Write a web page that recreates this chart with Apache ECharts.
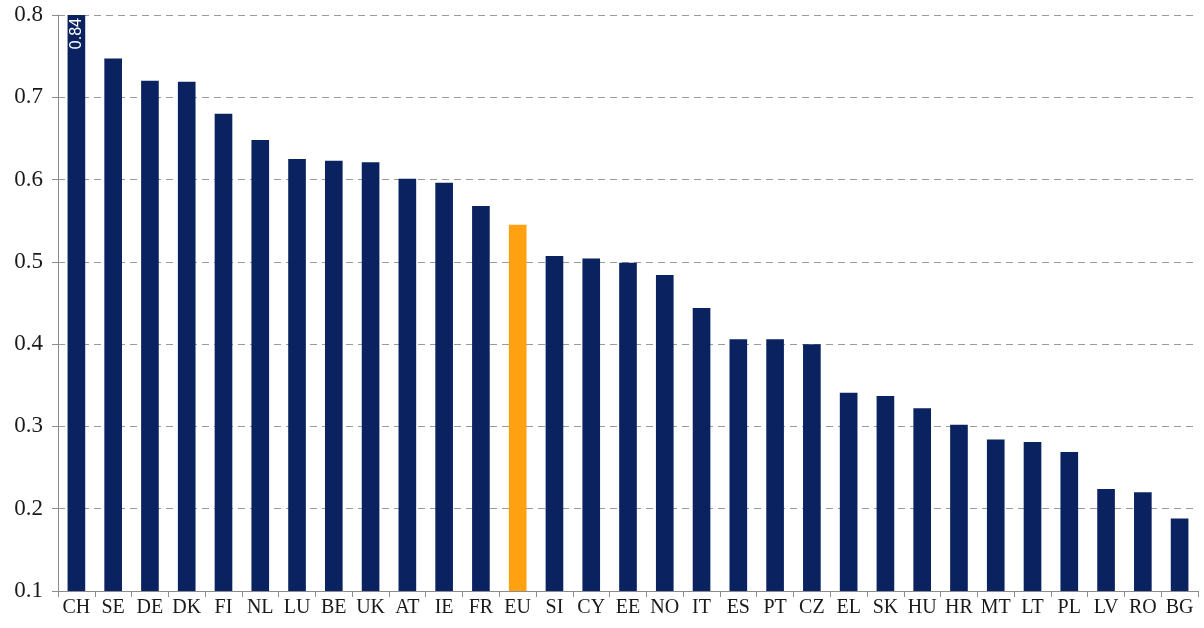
<!DOCTYPE html>
<html>
<head>
<meta charset="utf-8">
<script src="https://cdn.jsdelivr.net/npm/echarts@6/dist/echarts.min.js"></script>
<style>
  html, body { margin: 0; padding: 0; background: #fff; }
  #chart { width: 1204px; height: 628px; }
</style>
</head>
<body>
<div id="chart"></div>
<script>
// Country values, sorted descending; EU average highlighted in orange.
const countries = ['CH', 'SE', 'DE', 'DK', 'FI', 'NL', 'LU', 'BE', 'UK', 'AT', 'IE', 'FR', 'EU', 'SI', 'CY', 'EE',
  'NO', 'IT', 'ES', 'PT', 'CZ', 'EL', 'SK', 'HU', 'HR', 'MT', 'LT', 'PL', 'LV', 'RO', 'BG'];
const values = [0.84, 0.747, 0.72, 0.719, 0.68, 0.648, 0.625, 0.623, 0.621, 0.601, 0.596, 0.568, 0.545, 0.507, 0.504, 0.499,
  0.484, 0.444, 0.406, 0.406, 0.40, 0.341, 0.337, 0.322, 0.302, 0.284, 0.281, 0.269, 0.224, 0.22, 0.188];
const highlight = 'EU';
const clippedLabel = 'CH';   // bar runs past the axis max, so its value is written inside

const NAVY = '#0a2360';
const ORANGE = '#ffa110';
const FONT = '"Liberation Serif", "DejaVu Serif", serif';

const chart = echarts.init(document.getElementById('chart'), null, { renderer: 'canvas' });

chart.setOption({
  backgroundColor: '#fff',
  animation: false,
  grid: { left: 58, right: 6, top: 15, bottom: 37, containLabel: false },
  xAxis: {
    type: 'category',
    data: countries,
    axisLine: { lineStyle: { color: '#8c8c8c', width: 1 } },
    axisTick: { show: true, alignWithLabel: false, length: 6, lineStyle: { color: '#8c8c8c' } },
    axisLabel: { color: '#1a1a1a', fontFamily: FONT, fontSize: 20, margin: 7, interval: 0 },
  },
  yAxis: {
    type: 'value',
    min: 0.1,
    max: 0.8,
    interval: 0.1,
    axisLine: { show: true, lineStyle: { color: '#8c8c8c', width: 1 } },
    axisTick: { show: true, length: 6, lineStyle: { color: '#8c8c8c' } },
    axisLabel: {
      color: '#1a1a1a', fontFamily: FONT, fontSize: 23, margin: 15,
      formatter: (v) => v.toFixed(1),
    },
    splitLine: { show: true, lineStyle: { color: '#9a9a9a', type: [7, 5], width: 1 } },
  },
  series: [{
    type: 'bar',
    barWidth: '48%',
    clip: true,
    data: values.map((v, i) => ({
      value: v,
      itemStyle: { color: countries[i] === highlight ? ORANGE : NAVY },
      label: countries[i] === clippedLabel ? {
        show: true,
        position: 'insideTop',
        rotate: 90,
        align: 'right',
        verticalAlign: 'middle',
        distance: 3,
        color: '#fff',
        fontFamily: '"Liberation Sans", Arial, sans-serif',
        fontSize: 16,
        formatter: (p) => p.value.toFixed(2),
      } : { show: false },
    })),
  }],
});
</script>
</body>
</html>
